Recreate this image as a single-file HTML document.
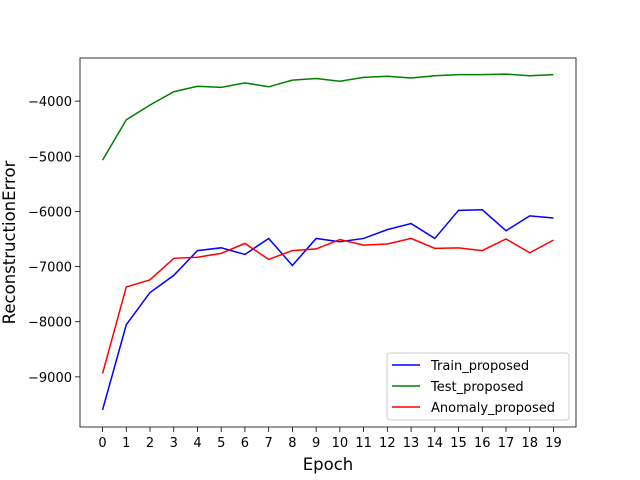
<!DOCTYPE html>
<html><head><meta charset="utf-8"><style>body{margin:0;background:#fff}svg{display:block;font-family:"DejaVu Sans","Liberation Sans",sans-serif}</style></head>
<body>
<svg id="chart" width="640" height="480"></svg>
<script>
const epochs=[0,1,2,3,4,5,6,7,8,9,10,11,12,13,14,15,16,17,18,19];
const trainVals=[-9600,-8055,-7470,-7160,-6710,-6660,-6780,-6490,-6980,-6490,-6550,-6490,-6330,-6220,-6490,-5980,-5970,-6350,-6080,-6120];
const testVals=[-5070,-4340,-4070,-3830,-3730,-3750,-3670,-3740,-3620,-3590,-3640,-3570,-3550,-3580,-3540,-3520,-3520,-3510,-3540,-3520];
const anomalyVals=[-8940,-7370,-7240,-6850,-6830,-6760,-6580,-6870,-6710,-6680,-6510,-6610,-6590,-6490,-6670,-6660,-6710,-6500,-6750,-6520];
const yTicks=[-9000,-8000,-7000,-6000,-5000,-4000];
const seriesNames=["Train_proposed","Test_proposed","Anomaly_proposed"];
const L=80,R=576,T=58,B=427;
const xMin=-0.95,xMax=19.95,yMin=-9909,yMax=-3218;
const sx=v=>L+(v-xMin)/(xMax-xMin)*(R-L);
const sy=v=>B-(v-yMin)/(yMax-yMin)*(B-T);
const svg=document.getElementById('chart');const NS='http://www.w3.org/2000/svg';
function mk(t,a,p){const e=document.createElementNS(NS,t);for(const k in a)e.setAttribute(k,a[k]);(p||svg).appendChild(e);return e;}
epochs.forEach(v=>{const x=sx(v);
const t=mk('line',{x1:x,x2:x,y1:B,y2:B+5,stroke:'#000','stroke-width':0.8});


const l=mk('text',{x:x,y:B+20,'text-anchor':'middle','font-size':13});l.textContent=v;

});
yTicks.forEach(v=>{const y=sy(v);
const t=mk('line',{x1:L-5,x2:L,y1:y,y2:y,stroke:'#000','stroke-width':0.8});


const l=mk('text',{x:L-8,y:y+5,'text-anchor':'end','font-size':13});l.textContent='\u2212'+Math.abs(v);

});
const colors=['#0000ff','#008000','#ff0000'];
[trainVals,testVals,anomalyVals].forEach((arr,i)=>{
const p=mk('polyline',{points:arr.map((v,j)=>sx(epochs[j])+','+sy(v)).join(' '),fill:'none',stroke:colors[i],'stroke-width':1.5});

});
const fr=mk('rect',{x:L,y:T,width:R-L,height:B-T,fill:'none',stroke:'#000','stroke-width':0.8});


const xt=mk('text',{x:(L+R)/2,y:470,'text-anchor':'middle','font-size':16.5});xt.textContent='Epoch';


const yc=(T+B)/2;
const yt=mk('text',{x:15,y:yc,'text-anchor':'middle','font-size':16.5,transform:'rotate(-90 15 '+yc+')'});yt.textContent='ReconstructionError';


const lg=mk('g',{});


mk('rect',{x:387,y:353,width:182,height:67,rx:3,fill:'#fff','fill-opacity':0.8,stroke:'#ccc'},lg);
seriesNames.forEach((n,i)=>{const y=365+i*21;
const e=mk('g',{},lg);


mk('line',{x1:392,x2:420,y1:y,y2:y,stroke:colors[i],'stroke-width':1.5},e);
const t=mk('text',{x:431,y:y+5,'font-size':13},e);t.textContent=n;});
</script>
</body></html>
